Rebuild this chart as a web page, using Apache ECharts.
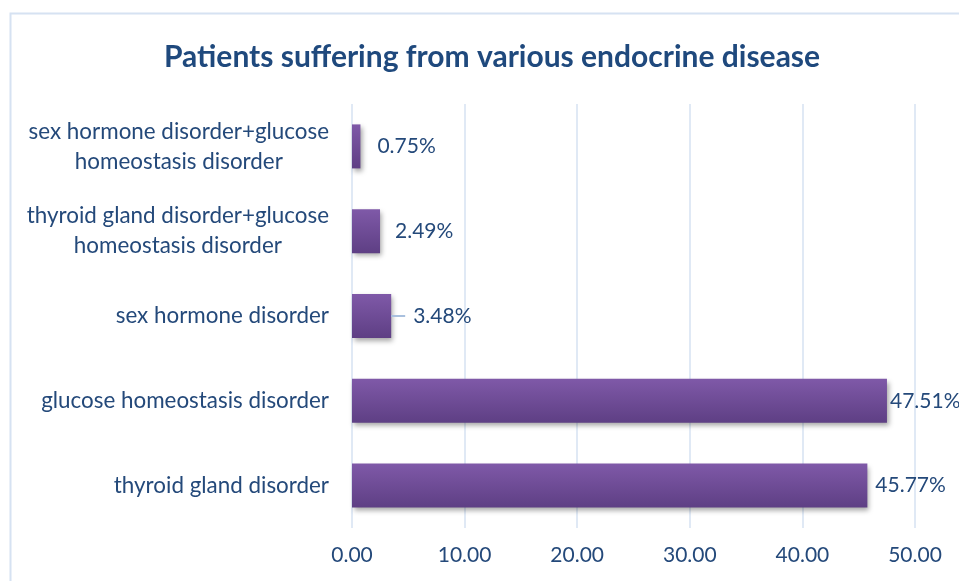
<!DOCTYPE html>
<html><head><meta charset="utf-8">
<script src="https://cdn.jsdelivr.net/npm/echarts@6/dist/echarts.min.js"></script>
<style>html,body{margin:0;padding:0;background:#fff}#c{width:959px;height:581px}</style>
</head><body><div id="c"></div>
<script>
const titleText = 'Patients suffering from various endocrine disease';
const categories = [
  'thyroid gland disorder',
  'glucose homeostasis disorder',
  'sex hormone disorder',
  'thyroid gland disorder+glucose\nhomeostasis disorder',
  'sex hormone disorder+glucose\nhomeostasis disorder'
];
const values = [45.77, 47.51, 3.48, 2.49, 0.75];
const xTicks = [0, 10, 20, 30, 40, 50];

const labelDistance = [8, 3, 0, 15, 17];
const labelLeader = [false, false, true, false, false];

const FONT = 'Lato, "Open Sans", sans-serif';
const TXT = '#24497A';

const chart = echarts.init(document.getElementById('c'));
const data = values.map((v, i) => ({
  value: v,
  label: labelLeader[i] ? {
    distance: 0,
    formatter: p => '{l|}{t|' + p.value.toFixed(2) + '%}'
  } : { distance: labelDistance[i] }
}));

chart.setOption({
  animation: false,
  graphic: [{
    type: 'rect', shape: { x: 10.5, y: 13.5, width: 1000, height: 1000 },
    style: { fill: 'none', stroke: '#D6E2F2', lineWidth: 2 }, silent: true, z: -1
  }],
  title: {
    text: titleText, left: 487, top: 37, textAlign: 'center',
    textStyle: { fontFamily: FONT, fontWeight: 'bold', fontSize: 30, color: '#1F497D' }
  },
  grid: { left: 352, right: 44, top: 104, bottom: 53, containLabel: false },
  xAxis: {
    type: 'value', min: xTicks[0], max: xTicks[xTicks.length - 1], interval: 10,
    axisLine: { show: false }, axisTick: { show: false },
    splitLine: { show: true, lineStyle: { color: '#D6E2F2', width: 1.5 } },
    axisLabel: { margin: 17, fontFamily: FONT, fontSize: 21, color: TXT, formatter: v => v.toFixed(2) }
  },
  yAxis: {
    type: 'category', data: categories,
    axisLine: { show: false }, axisTick: { show: false },
    axisLabel: {
      margin: 23, fontFamily: FONT, fontSize: 22.4, color: TXT, lineHeight: 30,
      formatter: v => v.split('\n').map(s => '{a|' + s + '}').join('\n'),
      rich: { a: { align: 'center', fontFamily: FONT, fontSize: 22.4, color: TXT, lineHeight: 30 } }
    }
  },
  series: [{
    type: 'bar', data: data, barWidth: 44,
    itemStyle: {
      color: new echarts.graphic.LinearGradient(0, 0, 0, 1, [
        { offset: 0, color: '#7F59A8' }, { offset: 1, color: '#5E3F84' }
      ]),
      shadowColor: 'rgba(0,0,0,0.35)', shadowBlur: 5, shadowOffsetX: 2, shadowOffsetY: 3
    },
    label: {
      show: true, position: 'right', fontFamily: FONT, fontSize: 21, color: TXT,
      formatter: p => p.value.toFixed(2) + '%',
      rich: {
        l: { width: 14, height: 2, backgroundColor: '#A9C0DE' },
        t: { fontFamily: FONT, fontSize: 21, color: TXT, padding: [0, 0, 0, 8] }
      }
    }
  }]
});
</script></body></html>
